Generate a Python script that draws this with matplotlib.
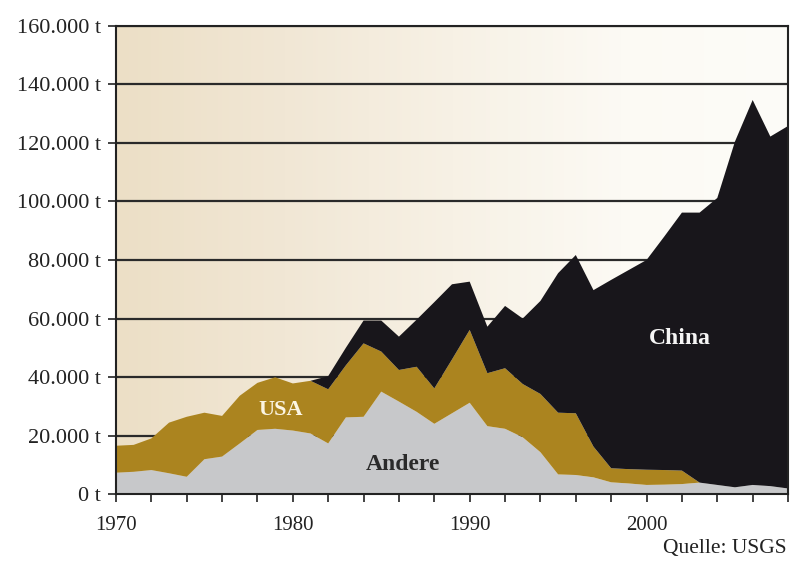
import numpy as np
import matplotlib
matplotlib.use("Agg")
import matplotlib.pyplot as plt
from matplotlib.colors import LinearSegmentedColormap

years = list(range(1970, 2009))

# tonnes per year, stacked bottom to top: Andere, USA, China
andere = [7300, 7600, 8200, 7100, 5900, 11900, 12800, 17300, 21900, 22300,
          21700, 20700, 17300, 26200, 26400, 35000, 31600, 28100, 24000, 27600,
          31200, 23200, 22300, 19400, 14300, 6700, 6500, 5700, 4000, 3600,
          3100, 3200, 3400, 3900, 3100, 2300, 3100, 2700, 1900]
usa = [9200, 9200, 10800, 17300, 20500, 15900, 13900, 16300, 16100, 17600,
       16100, 18000, 18500, 17800, 25100, 13700, 10800, 15400, 12100, 18400,
       24900, 18100, 20700, 18200, 19900, 21100, 21100, 10500, 4800, 4900,
       5200, 5000, 4600, 0, 0, 0, 0, 0, 0]
china = [0, 0, 0, 0, 0, 0, 0, 0, 0, 0,
         0, 0, 4500, 6000, 7800, 10600, 11400, 16100, 29500, 25700,
         16500, 15900, 21300, 22400, 31800, 47700, 54100, 53500, 64400, 68100,
         71700, 79800, 88200, 92300, 98100, 118200, 131600, 119500, 123900]

y_ticks = [0, 20000, 40000, 60000, 80000, 100000, 120000, 140000, 160000]
y_labels = ["0 t", "20.000 t", "40.000 t", "60.000 t", "80.000 t",
            "100.000 t", "120.000 t", "140.000 t", "160.000 t"]
x_ticks = [1970, 1980, 1990, 2000]

plt.rcParams['font.family'] = ['Liberation Serif', 'DejaVu Serif']

fig = plt.figure(figsize=(7.9, 5.61), dpi=100)
ax = fig.add_axes([0.1468, 0.1194, 0.8507, 0.8343])

# warm background fading to white towards the right
bg = LinearSegmentedColormap.from_list(
    "bg", ["#ecdfc6", "#f1e7d5", "#f7f1e5", "#fcfaf4", "#fdfcf8"])
grad = np.linspace(0, 1, 256).reshape(1, -1)
ax.imshow(grad, cmap=bg, aspect="auto", extent=[1970, 2008, 0, 160000],
          zorder=0)

for v in y_ticks[1:]:
    ax.axhline(v, color="#2a2a2a", lw=1.6, zorder=1)

ax.stackplot(years, andere, usa, china,
             colors=["#c7c8ca", "#ab841f", "#18161b"], zorder=2)

ax.set_xlim(1970, 2008)
ax.set_ylim(0, 160000)
ax.set_yticks(y_ticks)
ax.set_yticklabels(y_labels, fontsize=16)
ax.set_xticks(range(1970, 2009, 2), minor=True)
ax.set_xticks(x_ticks)
ax.tick_params(axis="both", which="both", direction="out", length=6,
               width=1.2, color="#222222", labelcolor="#222222")
ax.tick_params(axis="x", which="major", pad=10, labelsize=15)
ax.tick_params(axis="y", pad=5)
for s in ax.spines.values():
    s.set_linewidth(1.5)
    s.set_color("#222222")
    s.set_zorder(5)

ax.text(1979.3, 28700, "USA", color="#fbf5e3", fontsize=16,
        fontweight="bold", ha="center", va="center", zorder=4)
ax.text(1986.2, 10200, "Andere", color="#2a2a2a", fontsize=17,
        fontweight="bold", ha="center", va="center", zorder=4)
ax.text(2001.9, 53200, "China", color="#f5f5f5", fontsize=17,
        fontweight="bold", ha="center", va="center", zorder=4)

fig.text(0.996, 0.022, "Quelle: USGS", ha="right", va="center",
         fontsize=15.5, color="#222222")

fig.savefig("out.png", dpi=100)
